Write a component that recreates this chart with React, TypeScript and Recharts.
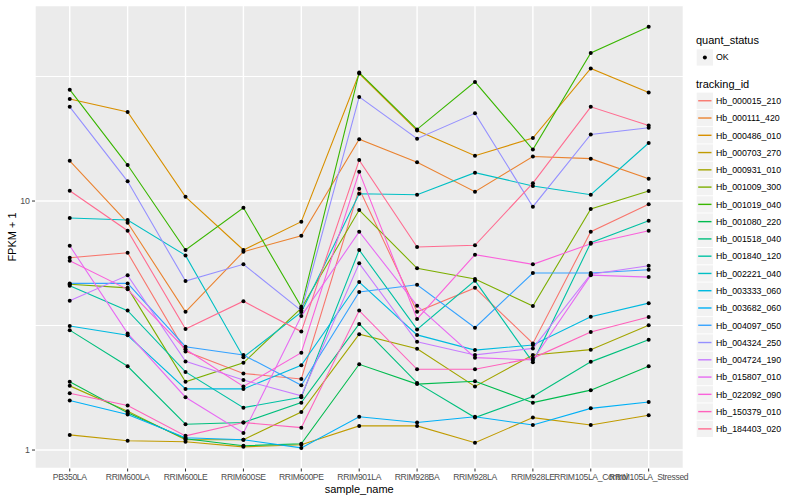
import React from 'react';
import { LineChart, Line, XAxis, YAxis, CartesianGrid } from 'recharts';

const categories = [
  'PB350LA', 'RRIM600LA', 'RRIM600LE', 'RRIM600SE', 'RRIM600PE', 'RRIM901LA',
  'RRIM928BA', 'RRIM928LA', 'RRIM928LE', 'RRIM105LA_Control', 'RRIM105LA_Stressed',
];

const trackingIds = [
  'Hb_000015_210', 'Hb_000111_420', 'Hb_000486_010', 'Hb_000703_270', 'Hb_000931_010',
  'Hb_001009_300', 'Hb_001019_040', 'Hb_001080_220', 'Hb_001518_040', 'Hb_001840_120',
  'Hb_002221_040', 'Hb_003333_060', 'Hb_003682_060', 'Hb_004097_050', 'Hb_004324_250',
  'Hb_004724_190', 'Hb_015807_010', 'Hb_022092_090', 'Hb_150379_010', 'Hb_184403_020',
];

const colors = [
  '#F8766D', '#EA8331', '#D89000', '#C09B00', '#A3A500', '#7CAE00', '#39B600', '#00BB4E',
  '#00BF7D', '#00C1A3', '#00BFC4', '#00BAE0', '#00B0F6', '#35A2FF', '#9590FF', '#C77CFF',
  '#E76BF3', '#FA62DB', '#FF62BC', '#FF6C91',
];

const Hb_000015_210 = [5.92, 6.2, 2.49, 2.03, 1.93, 11.2, 3.59, 4.48, 2.68, 7.53, 9.7];
const Hb_000111_420 = [14.5, 8.18, 3.59, 6.26, 7.25, 17.7, 14.3, 10.9, 15.1, 14.8, 12.3];
const Hb_000486_010 = [25.7, 22.8, 10.4, 6.36, 8.26, 32.5, 19.2, 15.2, 17.9, 34.1, 27.3];
const Hb_000703_270 = [1.15, 1.09, 1.08, 1.03, 1.05, 1.25, 1.25, 1.07, 1.35, 1.26, 1.38];
const Hb_000931_010 = [1.81, 1.43, 1.1, 1.1, 1.42, 2.92, 2.55, 1.8, 2.41, 2.53, 3.17];
const Hb_001009_300 = [4.63, 4.48, 1.88, 2.24, 3.71, 9.2, 5.37, 4.86, 3.79, 9.29, 10.97];
const Hb_001019_040 = [28.0, 13.95, 6.36, 9.4, 3.76, 32.8, 19.4, 30.1, 16.1, 39.3, 50.1];
const Hb_001080_220 = [1.88, 1.41, 1.11, 1.04, 1.06, 2.21, 1.84, 1.89, 1.55, 1.74, 2.17];
const Hb_001518_040 = [3.03, 2.17, 1.27, 1.29, 1.55, 3.21, 1.86, 1.35, 1.64, 2.26, 2.77];
const Hb_001840_120 = [4.57, 3.63, 2.06, 1.48, 1.63, 6.36, 3.05, 4.79, 2.25, 6.8, 8.33];
const Hb_002221_040 = [8.55, 8.39, 6.05, 2.36, 3.58, 10.7, 10.6, 13.0, 11.5, 10.6, 17.1];
const Hb_003333_060 = [3.15, 2.89, 1.76, 1.76, 2.19, 4.73, 2.9, 2.52, 2.64, 3.43, 3.89];
const Hb_003682_060 = [1.58, 1.39, 1.12, 1.1, 1.02, 1.36, 1.29, 1.36, 1.26, 1.47, 1.56];
const Hb_004097_050 = [4.67, 4.67, 2.6, 2.41, 1.82, 4.31, 4.61, 3.1, 5.14, 5.14, 5.3];
const Hb_004324_250 = [23.9, 12.0, 4.77, 5.57, 3.63, 26.2, 17.8, 22.5, 9.49, 18.5, 19.7];
const Hb_004724_190 = [3.98, 5.03, 2.27, 1.91, 1.65, 5.62, 2.72, 2.41, 2.56, 5.08, 5.5];
const Hb_015807_010 = [6.61, 2.94, 1.63, 1.17, 3.45, 7.53, 3.8, 2.35, 2.3, 5.04, 4.95];
const Hb_022092_090 = [5.76, 4.42, 2.54, 1.8, 2.46, 13.1, 3.36, 6.09, 5.57, 6.74, 7.6];
const Hb_150379_010 = [1.69, 1.51, 1.14, 1.29, 1.23, 3.63, 2.11, 2.11, 2.34, 2.98, 3.42];
const Hb_184403_020 = [11.0, 7.6, 3.06, 3.96, 2.99, 14.6, 6.54, 6.64, 11.8, 23.9, 20.1];

const seriesValues = [
  Hb_000015_210, Hb_000111_420, Hb_000486_010, Hb_000703_270, Hb_000931_010,
  Hb_001009_300, Hb_001019_040, Hb_001080_220, Hb_001518_040, Hb_001840_120,
  Hb_002221_040, Hb_003333_060, Hb_003682_060, Hb_004097_050, Hb_004324_250,
  Hb_004724_190, Hb_015807_010, Hb_022092_090, Hb_150379_010, Hb_184403_020,
];

const yTicks = [1, 10];
const yMinorTicks = [3.1623, 31.623];
const yDomain: [number, number] = [0.843, 61];
const xDomain: [number, number] = [-0.6, 10.6];

const data: Record<string, number | string>[] = [];
{
  const left: Record<string, number | string> = { idx: xDomain[0] };
  yMinorTicks.forEach((v, m) => (left['minor' + m] = v));
  data.push(left);
}
categories.forEach((name, i) => {
  const row: Record<string, number | string> = { idx: i, name };
  trackingIds.forEach((id, k) => {
    row[id] = seriesValues[k][i];
  });
  yMinorTicks.forEach((v, m) => (row['minor' + m] = v));
  data.push(row);
});
{
  const right: Record<string, number | string> = { idx: xDomain[1] };
  yMinorTicks.forEach((v, m) => (right['minor' + m] = v));
  data.push(right);
}

const FONT = '"Liberation Sans", Arial, Helvetica, sans-serif';

export default function App() {
  const keyTop0 = 92.6;
  const keyStep = 17.27;
  return (
    <div style={{ position: 'absolute', left: 0, top: 0, width: 800, height: 500, background: '#fff', fontFamily: FONT }}>
      <LineChart
        width={800}
        height={500}
        data={data}
        margin={{ top: 5.5, right: 116.6, bottom: 0, left: 0 }}
      >
        <CartesianGrid
          fill="#EBEBEB"
          fillOpacity={1}
          stroke="#FFFFFF"
          strokeWidth={1.4}
          strokeDasharray=""
        />
        <XAxis
          dataKey="idx"
          type="number"
          domain={xDomain}
          ticks={[0, 1, 2, 3, 4, 5, 6, 7, 8, 9, 10]}
          interval={0}
          allowDataOverflow
          tickFormatter={(v: number) => categories[v] ?? ''}
          axisLine={false}
          tickLine={{ stroke: '#333333', strokeWidth: 1 }}
          tickSize={3}
          tickMargin={2}
          height={31.5}
          tick={{ fontSize: 8.6, fill: '#4D4D4D', fontFamily: FONT, letterSpacing: -0.35 }}
        />
        <YAxis
          type="number"
          scale="log"
          domain={yDomain}
          allowDataOverflow
          ticks={yTicks}
          interval={0}
          width={35}
          axisLine={false}
          tickLine={{ stroke: '#333333', strokeWidth: 1 }}
          tickSize={3}
          tickMargin={2}
          tick={{ fontSize: 8.8, fill: '#4D4D4D', fontFamily: FONT }}
        />
        {yMinorTicks.map((v, m) => (
          <Line
            key={'minor' + m}
            type="linear"
            dataKey={'minor' + m}
            stroke="#FFFFFF"
            strokeWidth={1}
            dot={false}
            activeDot={false}
            legendType="none"
            isAnimationActive={false}
          />
        ))}
        {trackingIds.map((id, k) => (
          <Line
            key={id}
            type="linear"
            dataKey={id}
            stroke={colors[k]}
            strokeWidth={1.1}
            dot={false}
            activeDot={false}
            isAnimationActive={false}
          />
        ))}
        {trackingIds.map((id) => (
          <Line
            key={id + '_pt'}
            type="linear"
            dataKey={id}
            stroke="none"
            strokeWidth={0}
            dot={{ r: 2, fill: '#000000', stroke: 'none' }}
            activeDot={false}
            isAnimationActive={false}
          />
        ))}
      </LineChart>
      <svg
        width={800}
        height={500}
        style={{ position: 'absolute', left: 0, top: 0, pointerEvents: 'none' }}
      >
        <text x={359.2} y={489} fontSize={11} fill="#000" textAnchor="middle" dominantBaseline="central" fontFamily={FONT}>
          sample_name
        </text>
        <text
          x={12}
          y={237}
          fontSize={11}
          fill="#000"
          textAnchor="middle"
          dominantBaseline="central"
          fontFamily={FONT}
          transform="rotate(-90 12 237)"
        >
          FPKM + 1
        </text>
        <text x={696} y={40} fontSize={11} fill="#000" dominantBaseline="central" fontFamily={FONT}>
          quant_status
        </text>
        <rect x={696.7} y={49.3} width={16.3} height={16.3} fill="#F2F2F2" />
        <circle cx={704.85} cy={57.45} r={2} fill="#000" />
        <text x={716} y={57.4} fontSize={8.8} fill="#000" dominantBaseline="central" fontFamily={FONT}>
          OK
        </text>
        <text x={696} y={84} fontSize={11} fill="#000" dominantBaseline="central" fontFamily={FONT}>
          tracking_id
        </text>
        {trackingIds.map((id, k) => {
          const top = keyTop0 + k * keyStep;
          return (
            <g key={id}>
              <rect x={696.7} y={top} width={16.3} height={16.3} fill="#F2F2F2" />
              <line x1={698.2} x2={711.5} y1={top + 8.15} y2={top + 8.15} stroke={colors[k]} strokeWidth={1.4} />
              <text x={716} y={top + 8.4} fontSize={8.8} fill="#000" dominantBaseline="central" fontFamily={FONT}>
                {id}
              </text>
            </g>
          );
        })}
      </svg>
    </div>
  );
}
